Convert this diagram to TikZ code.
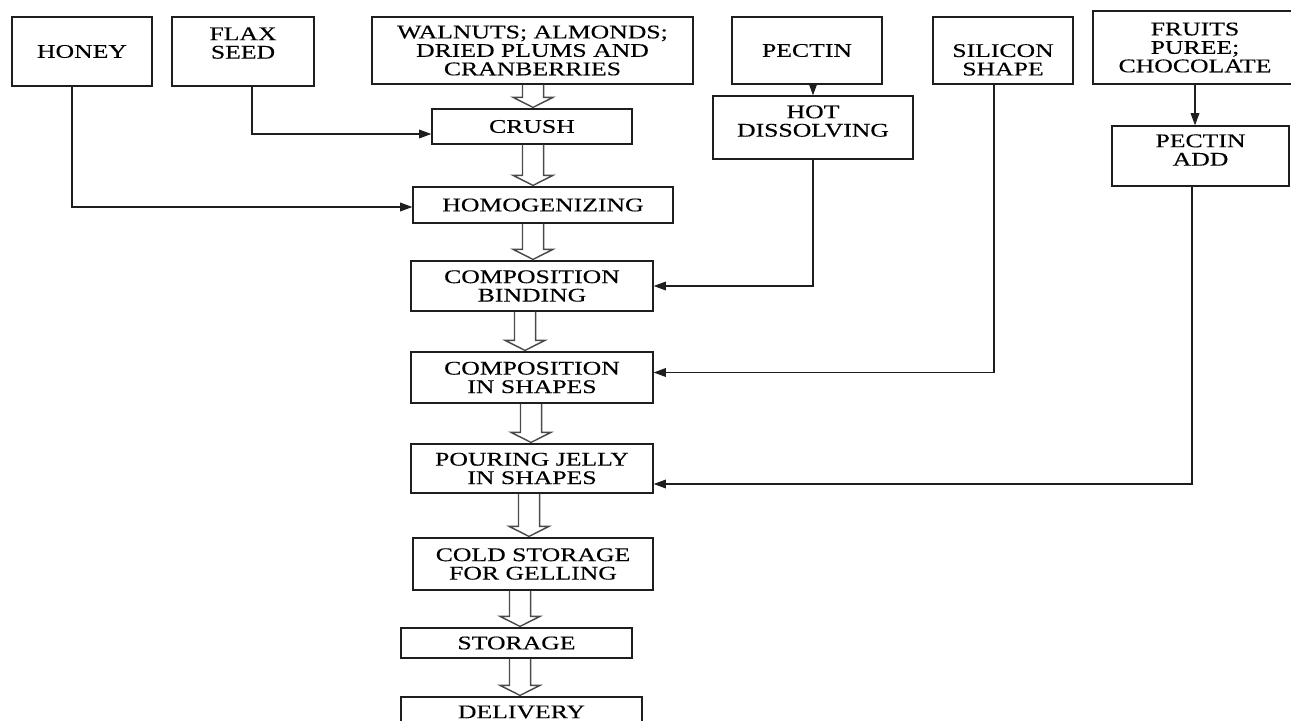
\documentclass[tikz,border=0pt]{standalone}
\usepackage{fontspec}
\setmainfont{Liberation Serif}[FakeStretch=1.33,FakeBold=0.3]
\usetikzlibrary{arrows.meta,calc}
\definecolor{Trazo}{HTML}{1E1E1E}
\definecolor{Hueco}{HTML}{4A4A4A}

\begin{document}
\begin{tikzpicture}[
  x=0.02cm, y=-0.02cm,
  font=\fontsize{11}{10.5}\selectfont,
  caja/.style={draw=Trazo,line width=0.8pt,align=center,inner sep=0pt},
  arr/.style={-{Triangle[length=7pt,width=5pt]},line width=0.6pt,Trazo},
  hueco/.style={draw=Hueco,line width=0.8pt,line join=miter}
]
  \useasboundingbox (0,0) rectangle (1291,720);

  % raw materials
  \node[caja,minimum width=2.80cm,minimum height=1.38cm] (honey) at (82,51.5) {HONEY};
  \node[caja,minimum width=2.84cm,minimum height=1.38cm,text depth=0.34cm] (flax) at (243,51.5) {FLAX\\SEED};
  \node[caja,minimum width=6.42cm,minimum height=1.34cm] (nuts) at (532.5,50.5)
    {WALNUTS; ALMONDS;\\DRIED PLUMS AND\\CRANBERRIES};
  \node[caja,minimum width=3.00cm,minimum height=1.34cm] (pectin) at (807,50.5) {PECTIN};
  \node[caja,minimum width=2.80cm,minimum height=1.34cm,text height=1.0cm] (silicon) at (1003,50.5) {SILICON\\SHAPE};
  \node[caja,minimum width=4.08cm,minimum height=1.46cm] (fruits) at (1195,47.5)
    {FRUITS\\PUREE;\\CHOCOLATE};
  \node[caja,minimum width=4.00cm,minimum height=1.26cm,text depth=0.26cm] (hot) at (813,127.5) {HOT\\DISSOLVING};
  \node[caja,minimum width=3.54cm,minimum height=1.20cm,text depth=0.24cm] (pectinadd) at (1200.5,156) {PECTIN\\ADD};

  % main line
  \node[caja,minimum width=4.00cm,minimum height=0.70cm] (crush) at (532,126.5) {CRUSH};
  \node[caja,minimum width=5.20cm,minimum height=0.72cm] (homog) at (543,205) {HOMOGENIZING};
  \node[caja,minimum width=4.84cm,minimum height=1.00cm] (bind) at (532,286) {COMPOSITION\\BINDING};
  \node[caja,minimum width=4.84cm,minimum height=1.02cm] (inshapes) at (532,377.5) {COMPOSITION\\IN SHAPES};
  \node[caja,minimum width=4.84cm,minimum height=0.98cm] (pouring) at (532,468.5) {POURING JELLY\\IN SHAPES};
  \node[caja,minimum width=4.80cm,minimum height=1.04cm] (cold) at (533,564) {COLD STORAGE\\FOR GELLING};
  \node[caja,minimum width=4.62cm,minimum height=0.60cm] (storage) at (516.5,643) {STORAGE};
  \node[caja,minimum width=4.82cm,minimum height=0.60cm] (delivery) at (521.5,712) {DELIVERY};

  % side feeds
  \draw[arr] ($(honey.south)+(-10,0)$) |- ($(homog.west)+(0,2)$);
  \draw[arr] ($(flax.south)+(9,0)$) |- ($(crush.west)+(0,7.5)$);
  \draw[arr] (hot.north |- pectin.south) -- (hot.north);
  \draw[arr] (hot.south) |- (bind.east);
  \draw[arr] ($(silicon.south)+(-9,0)$) |- ($(inshapes.east)+(0,-5)$);
  \draw[arr] (fruits.south) -- (fruits.south |- pectinadd.north);
  \draw[arr] ($(pectinadd.south)+(-8.5,0)$) |- ($(pouring.east)+(0,15.5)$);

  % hollow arrows
  \foreach \de/\a/\xc in {nuts/crush/533, crush/homog/533, homog/bind/533, bind/inshapes/525,
                          inshapes/pouring/531, pouring/cold/529, cold/storage/520, storage/delivery/520}
    \draw[hueco] let \p1=(\de.south), \p2=(\a.north), \p3=(\xc,0) in
      (\x3-6pt,\y1) -- (\x3-6pt,\y2+6.2pt) -- (\x3-11.3pt,\y2+6.2pt) -- (\x3,\y2+0.5pt)
      -- (\x3+11.3pt,\y2+6.2pt) -- (\x3+6pt,\y2+6.2pt) -- (\x3+6pt,\y1);
\end{tikzpicture}
\end{document}
